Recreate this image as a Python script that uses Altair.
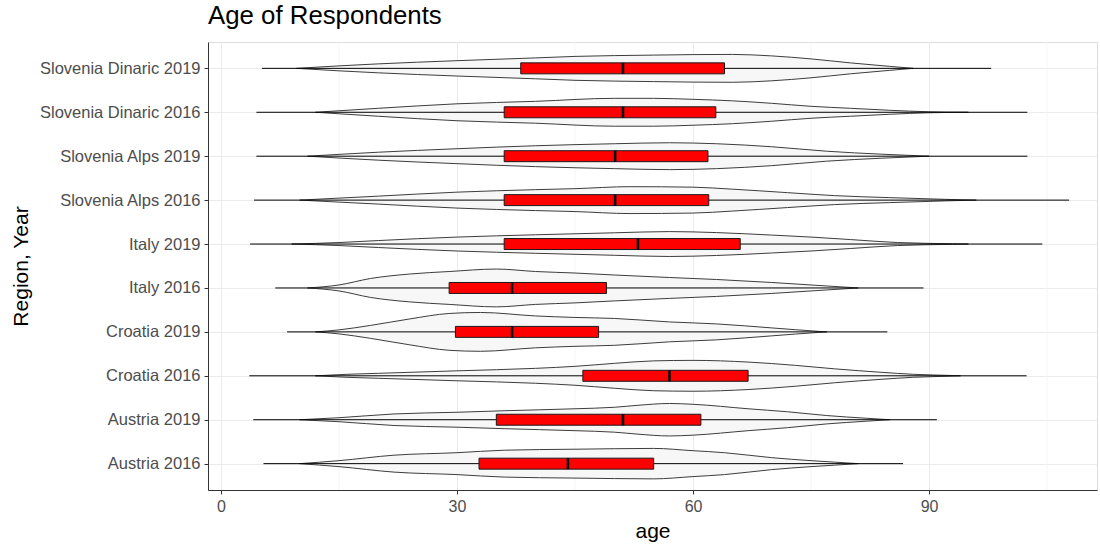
import altair as alt
import pandas as pd

# ---------------- data ----------------
regions = ["Austria 2016", "Austria 2019", "Croatia 2016", "Croatia 2019",
           "Italy 2016", "Italy 2019", "Slovenia Alps 2016", "Slovenia Alps 2019",
           "Slovenia Dinaric 2016", "Slovenia Dinaric 2019"]

# box plot statistics (age)
whisker_lo = [5.4, 4.1, 3.6, 8.4, 6.9, 3.7, 4.2, 4.5, 4.5, 5.2]
q1 =         [32.8, 35.0, 46.0, 29.8, 29.0, 36.0, 36.0, 36.0, 36.0, 38.1]
median =     [44.1, 51.1, 57.0, 37.0, 37.0, 53.0, 50.1, 50.1, 51.1, 51.1]
q3 =         [55.0, 61.0, 67.0, 48.0, 49.0, 66.0, 62.0, 61.9, 62.9, 64.0]
whisker_hi = [86.7, 91.0, 102.4, 84.7, 89.3, 104.4, 107.8, 102.5, 102.5, 97.9]

# violin half-width profiles: (age, relative density)
violin_age = {
    "Austria 2016": [10, 15, 22, 30, 36, 45, 50, 55, 60, 64, 70, 75, 78, 81],
    "Austria 2019": [10, 15, 22, 30, 36, 45, 50, 53, 57, 60, 67, 72, 77, 82, 85],
    "Croatia 2016": [12, 16, 20, 30, 40, 45, 50, 55, 60, 67, 73, 78, 84, 88, 93, 94],
    "Croatia 2019": [12, 15, 19, 24, 29, 33, 40, 45, 50, 57, 63, 70, 76, 77],
    "Italy 2016": [11, 15, 19, 24, 29, 35, 40, 45, 50, 57, 63, 70, 77, 81],
    "Italy 2019": [9, 15, 20, 30, 40, 50, 57, 63, 70, 75, 80, 86, 93, 95],
    "Slovenia Alps 2016": [10, 20, 30, 40, 45, 52, 60, 65, 72, 78, 85, 92, 96],
    "Slovenia Alps 2019": [11, 20, 30, 40, 50, 57, 63, 70, 77, 84, 90],
    "Slovenia Dinaric 2016": [12, 20, 30, 40, 50, 55, 60, 65, 70, 75, 80, 85, 90, 95],
    "Slovenia Dinaric 2019": [9.6, 15, 20, 30, 40, 45, 50, 55, 60, 65, 70, 75, 80, 85, 88],
}
violin_dens = {
    "Austria 2016": [0, 3, 8.5, 11, 13.5, 14.5, 15, 15.3, 13, 11, 6, 3, 1.5, 0],
    "Austria 2019": [0, 2, 5.8, 7.5, 9, 11, 12.5, 14.5, 16.3, 15.5, 11, 8, 4.2, 1.5, 0],
    "Croatia 2016": [0, 1.5, 2.5, 5, 7.5, 9.5, 12.5, 15, 15.5, 13.8, 10.5, 7, 3.5, 1.5, 0.3, 0],
    "Croatia 2019": [0, 2, 6.5, 13, 18.5, 19.5, 16, 14.5, 13.5, 10, 8, 4, 0.5, 0],
    "Italy 2016": [0, 3, 9.5, 14, 16.5, 19, 16.5, 15, 13, 10.5, 8.5, 5.5, 2, 0],
    "Italy 2019": [0, 1.5, 3.5, 7, 9.3, 11.3, 12.5, 11.5, 9, 7, 4.5, 1.5, 0.3, 0],
    "Slovenia Alps 2016": [0, 4, 8, 10.5, 11.5, 13.5, 13, 11, 7.5, 4.5, 2.5, 0.8, 0],
    "Slovenia Alps 2019": [0, 4, 7.5, 10.5, 12.5, 13.5, 12.5, 9.5, 5, 2, 0],
    "Slovenia Dinaric 2016": [0, 4, 8.5, 11, 14, 14, 13, 11.5, 9, 6, 4, 2, 0.5, 0],
    "Slovenia Dinaric 2019": [0, 2.5, 4.5, 7.7, 10.5, 12, 12.8, 13.3, 13.8, 14, 12.5, 9.5, 5.5, 2, 0],
}

x_ticks = [0, 30, 60, 90]
x_minor = [15, 45, 75, 105]

# ---------------- tables ----------------
PX_PER_ROW = 44.1   # violin widths were read in pixels; one row = 44.1 px
BOX_HALF = 0.125

rows = []
for i, r in enumerate(regions):
    c = i + 1
    for a, d in zip(violin_age[r], violin_dens[r]):
        rows.append({"region": r, "age": a, "lo": c - d / PX_PER_ROW, "hi": c + d / PX_PER_ROW})
violin_df = pd.DataFrame(rows)

box_df = pd.DataFrame({
    "region": regions,
    "pos": list(range(1, len(regions) + 1)),
    "wlo": whisker_lo, "q1": q1, "med": median, "q3": q3, "whi": whisker_hi,
})
box_df["blo"] = box_df["pos"] - BOX_HALF
box_df["bhi"] = box_df["pos"] + BOX_HALF

minor_df = pd.DataFrame({"g": x_minor})

# ---------------- scales / axes ----------------
label_expr = "[" + ",".join("'" + r + "'" for r in regions) + "][datum.value - 1]"

x_scale = alt.Scale(domain=[-1.65, 111.35], nice=False, zero=False)
y_scale = alt.Scale(domain=[0.4, 10.6], nice=False, zero=False)

FONT = "Liberation Sans"

x_axis = alt.Axis(values=x_ticks, title="age", grid=True, gridColor="#EBEBEB", gridWidth=1,
                  labelFontSize=16, labelColor="#4D4D4D", labelPadding=4,
                  tickSize=4, tickColor="#333333", domainColor="#333333",
                  titleFontSize=21, titleFontWeight="normal", titleColor="#000000",
                  titlePadding=6, labelFont=FONT, titleFont=FONT)
y_axis = alt.Axis(values=list(range(1, len(regions) + 1)), labelExpr=label_expr,
                  title="Region, Year", grid=True, gridColor="#EBEBEB", gridWidth=1,
                  labelFontSize=16.5, labelColor="#4D4D4D", labelPadding=4,
                  tickSize=4, tickColor="#333333", domainColor="#333333",
                  titleFontSize=21, titleFontWeight="normal", titleColor="#000000",
                  titlePadding=8, labelFont=FONT, titleFont=FONT)


def X(field):
    return alt.X(field, type="quantitative", scale=x_scale, axis=x_axis)


def Y(field):
    return alt.Y(field, type="quantitative", scale=y_scale, axis=y_axis)


minor = alt.Chart(minor_df).mark_rule(color="#F2F2F2", strokeWidth=0.8).encode(x=X("g"))

violins = alt.Chart(violin_df).mark_area(
    fill="#F7F7F7", stroke="#3D3D3D", strokeWidth=1, interpolate="monotone"
).encode(
    x=X("age"), y=Y("lo"), y2="hi", detail="region:N"
)

whiskers = alt.Chart(box_df).mark_rule(color="#000000", strokeWidth=1).encode(
    x=X("wlo"), x2="whi", y=Y("pos")
)

boxes = alt.Chart(box_df).mark_rect(fill="#FF0000", stroke="#1A1A1A", strokeWidth=1).encode(
    x=X("q1"), x2="q3", y=Y("blo"), y2="bhi"
)

medians = alt.Chart(box_df).mark_rule(color="#000000", strokeWidth=2.5).encode(
    x=X("med"), y=Y("blo"), y2="bhi"
)

chart = alt.layer(minor, violins, whiskers, boxes, medians).properties(
    width=889, height=448,
    title=alt.TitleParams("Age of Respondents", anchor="start", fontSize=25.8,
                          fontWeight="normal", color="#000000", font=FONT,
                          offset=12, frame="group"),
    padding={"left": 208, "top": 42, "right": 3, "bottom": 54},
    autosize=alt.AutoSizeParams(type="none"),
).configure_view(stroke="#9A9A9A", strokeWidth=1).configure(background="white")

chart.save("out.html", embed_options={"renderer": "svg", "actions": False})
